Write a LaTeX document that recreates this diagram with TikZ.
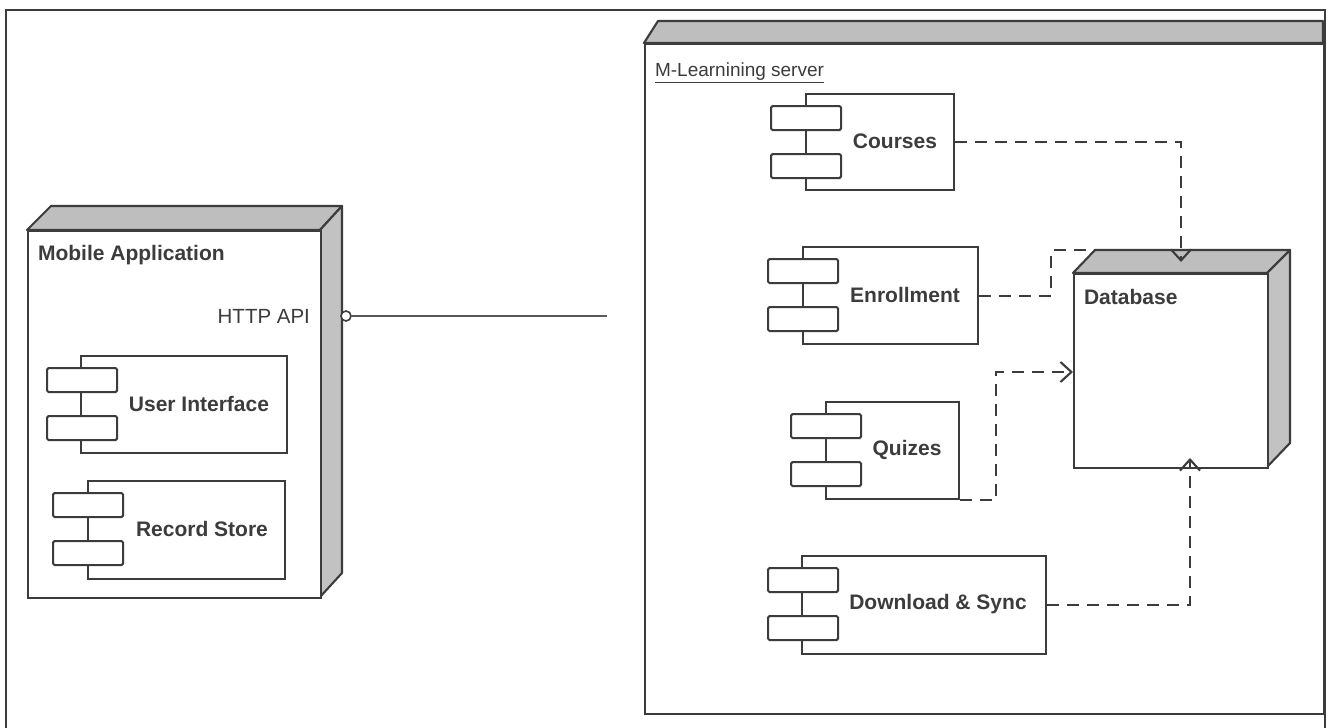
\documentclass[tikz,border=0pt]{standalone}
\usepackage{fontspec}
\setmainfont{Liberation Sans}
\usetikzlibrary{arrows.meta}
\definecolor{ink}{HTML}{3C3C3C}
\definecolor{face}{HTML}{BEBEBE}
\definecolor{side}{HTML}{C2C2C2}
\newcommand\umlcomp[8]{%
  \node[mainrect, minimum width=#4pt, minimum height=#5pt] (#1) at (#2,#3) {};
  \node[port] (#1-a) at (#6,#3+12) {};
  \node[port] (#1-b) at (#6,#3+60) {};
  \node[lbl] (#1-t) at (#7,#3+#5/2) {#8};
}
\begin{document}
\begin{tikzpicture}[x=1pt,y=-1pt,line width=2.1pt,
  lbl/.style={font=\fontsize{21}{24}\selectfont\bfseries,text=ink,inner sep=0pt},
  plain/.style={font=\fontsize{20.5}{24}\selectfont,text=ink,inner sep=0pt},
  mainrect/.style={draw=ink,fill=white,line width=2.1pt,anchor=north west,inner sep=0pt},
  port/.style={draw=ink,fill=white,rounded corners=1.5pt,minimum width=70pt,minimum height=24pt,inner sep=0pt,line width=2.1pt,anchor=north west},
  dep/.style={draw=ink,line width=2.1pt,dash pattern=on 12pt off 8pt},
  deparrow/.style={dep,-{Straight Barb[length=11pt,width=20pt,line width=2.1pt]}},
  frame/.style={draw=ink,line width=2.6pt},
  topface/.style={draw=ink,fill=face,line width=2.1pt,line join=round},
  sideface/.style={draw=ink,fill=side,line width=2.1pt,line join=round}]
\useasboundingbox (0,0) rectangle (1331,728);
\fill[white] (0,0) rectangle (1331,728);
% outer frame
\draw[frame] (6,728) -- (6,10) -- (1325,10) -- (1325,728);

% Mobile Application node
\draw[topface] (27,230) -- (51,206) -- (342,206) -- (320,230) -- cycle;
\draw[sideface] (320,230) -- (342,206) -- (342,573) -- (320,597) -- cycle;
\node[mainrect,minimum width=293pt,minimum height=367pt] (mobile) at (27,230) {};
\node[lbl,anchor=north west] (mobile-t) at (37,244) {Mobile Application};
\node[plain,anchor=east] (api-t) at (311,316) {HTTP API};
\node[circle,draw=ink,fill=white,line width=1.6pt,minimum size=10pt,inner sep=0pt] (api) at (346,316) {};
\coordinate (apiend) at (607,316);
\draw[draw=ink!85,line width=1.8pt] (api) -- (apiend);

\umlcomp{ui}{80}{355}{206}{97}{46}{199}{User Interface}
\umlcomp{rs}{87}{480}{197}{98}{52}{202}{Record Store}

% M-Learning server node
\draw[topface] (644,43) -- (658,21) -- (1323,21) -- (1323,43) -- cycle;
\node[mainrect,minimum width=679pt,minimum height=670pt] (server) at (644,43) {};
\node[plain,anchor=north west,font=\fontsize{19}{22}\selectfont] (server-t) at (654,62) {\underline{M-Learnining server}};

\umlcomp{courses}{805}{93}{148}{96}{770}{895}{Courses}
\umlcomp{enr}{802}{246}{175}{97}{767}{905}{Enrollment}
\umlcomp{quiz}{825}{401}{133}{97}{790}{907}{Quizes}
\umlcomp{dl}{801}{555}{244}{98}{767}{938}{Download \& Sync}

% Database node
\draw[topface] (1073,273) -- (1095,250) -- (1290,250) -- (1267,273) -- cycle;
\draw[sideface] (1267,273) -- (1290,250) -- (1290,443) -- (1267,467) -- cycle;
\node[mainrect,minimum width=194pt,minimum height=194pt] (db) at (1073,273) {};
\node[lbl,anchor=north west] (db-t) at (1083,288) {Database};

\coordinate (dbtopin) at (1181,262);
\coordinate (dbcorner) at (1095,250);
\coordinate (dbbotin) at (1190,458);

% dependencies
\draw[deparrow] (courses.east) -| (dbtopin);
\draw[dep] (enr.east) -- ++(72,0) |- (dbcorner);
\draw[deparrow] (quiz.south east) -- ++(36,0) |- (db.west |- 0,372);
\draw[deparrow] (dl.east) -| (dbbotin);
\end{tikzpicture}
\end{document}
